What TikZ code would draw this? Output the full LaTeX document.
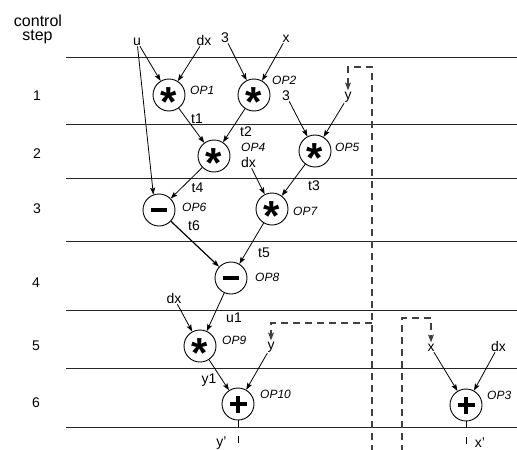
\documentclass[tikz,border=0pt]{standalone}
\usepackage{fontspec}
\setmainfont{Liberation Sans}
\usetikzlibrary{arrows.meta}
\newcommand\opstar{{\fontsize{42}{42}\selectfont\bfseries\raisebox{-0.51em}[0pt][0pt]{*}}}
\newcommand\opminus{\rule[-2.2pt]{16pt}{4.4pt}}
\newcommand\opplus{\makebox[0pt]{\rule[-1.7pt]{17pt}{3.4pt}}\makebox[0pt]{\rule[-8.5pt]{3.4pt}{17pt}}}
\begin{document}
\begin{tikzpicture}[x=1pt,y=-1pt,
  lbl/.style={font=\fontsize{14}{16}\selectfont, inner sep=1pt, anchor=base},
  ctllbl/.style={font=\fontsize{16}{18}\selectfont, inner sep=0pt, anchor=base},
  oplbl/.style={font=\fontsize{12}{14}\selectfont\itshape, inner sep=0pt, anchor=base west},
  opnode/.style={circle, draw, line width=0.9pt, minimum size=32pt, inner sep=0pt},
  arr/.style={-{Stealth[length=7pt,width=5pt,inset=1.5pt]}, line width=0.8pt},
  dasharr/.style={-{Stealth[length=8pt,width=6pt,inset=2pt]}, line width=1.1pt, black!75, dash pattern=on 7pt off 5pt},
  outline/.style={line width=0.9pt, dash pattern=on 7pt off 9pt},
  rowline/.style={line width=1pt, black!85},
]
\useasboundingbox (0,0) rectangle (517,450);
% row lines
\foreach \yy in {57,124,178,241,310,368,427}
  \draw[rowline] (66,\yy) -- (517,\yy);
% control step labels
\node[ctllbl] (ctla) at (38,26) {control};
\node[ctllbl] (ctlb) at (37.5,40.5) {step};
\node[lbl] (s1) at (37,100) {1};
\node[lbl] (s2) at (37,158) {2};
\node[lbl] (s3) at (37,213) {3};
\node[lbl] (s4) at (36,287) {4};
\node[lbl] (s5) at (36,350) {5};
\node[lbl] (s6) at (36,407) {6};
% operation nodes
\node[opnode] (op1) at (169,95) {\opstar};
\node[opnode] (op2) at (254,95) {\opstar};
\node[opnode] (op4) at (214,156) {\opstar};
\node[opnode] (op5) at (315,151) {\opstar};
\node[opnode] (op6) at (159,210) {\opminus};
\node[opnode] (op7) at (272,209) {\opstar};
\node[opnode] (op8) at (231,278) {\opminus};
\node[opnode] (op9) at (200,346) {\opstar};
\node[opnode] (op10) at (238,404) {\opplus};
\node[opnode] (op3) at (466,405) {\opplus};
% operation labels
\node[oplbl] (l1) at (190,94) {OP1};
\node[oplbl] (l2) at (272,84) {OP2};
\node[oplbl] (l4) at (241,151) {OP4};
\node[oplbl] (l5) at (335,151) {OP5};
\node[oplbl] (l6) at (182,211) {OP6};
\node[oplbl] (l7) at (293,215) {OP7};
\node[oplbl] (l8) at (255,281) {OP8};
\node[oplbl] (l9) at (222,344) {OP9};
\node[oplbl] (l10) at (260,398) {OP10};
\node[oplbl] (l3) at (487,399) {OP3};
% variable labels
\node[lbl] (u) at (137,45) {u};
\node[lbl] (dxa) at (204,45) {dx};
\node[lbl] (thra) at (225,42) {3};
\node[lbl] (xa) at (286,42) {x};
\node[lbl] (thrb) at (286,100) {3};
\node[lbl] (ya) at (348,99) {y};
\node[lbl] (tone) at (197,123) {t1};
\node[lbl] (ttwo) at (246,136) {t2};
\node[lbl] (dxb) at (248.5,167) {dx};
\node[lbl] (tfour) at (197.5,192) {t4};
\node[lbl] (tthree) at (314,190) {t3};
\node[lbl] (tsix) at (194,230) {t6};
\node[lbl] (tfive) at (264,257) {t5};
\node[lbl] (dxc) at (174,303) {dx};
\node[lbl] (uone) at (234,322) {u1};
\node[lbl] (yb) at (271,349) {y};
\node[lbl] (yone) at (209,383.5) {y1};
\node[lbl] (xb) at (431,351) {x};
\node[lbl] (dxd) at (498.5,351) {dx};
\node[lbl] (yprime) at (221.5,446) {y'};
\node[lbl] (xprime) at (480,447) {x'};
% connectors
\draw[arr] (u) -- (op1);
\draw[arr] (u) -- (op6.110);
\draw[arr] (dxa) -- (op1);
\draw[arr] (thra) -- (op2);
\draw[arr] (xa) -- (op2);
\draw[arr] (op1) -- (op4);
\draw[arr] (op2) -- (op4);
\draw[arr] (thrb) -- (op5);
\draw[arr] (ya) -- (op5);
\draw[arr] (op4) -- (op6);
\draw[arr] (dxb) -- (op7);
\draw[arr] (op5) -- (op7);
\draw[arr, line width=1.2pt] (op6) -- (op8);
\draw[arr] (op7) -- (op8);
\draw[arr] (op8) -- (op9);
\draw[arr] (dxc) -- (op9);
\draw[arr] (op9) -- (op10);
\draw[arr] (yb) -- (op10);
\draw[arr] (xb) -- (op3);
\draw[arr] (dxd) -- (op3);
% outputs
\coordinate (yend) at (238,452);
\coordinate (xend) at (466,452);
\draw[outline] (op10) -- (yend);
\draw[outline] (op3) -- (xend);
% dashed transfers
\coordinate (da1) at (372,452);
\coordinate (da2) at (372,67);
\coordinate (da3) at (348,67);
\draw[dasharr] (da1) -- (da2) -- (da3) -- (ya);
\coordinate (db1) at (372,323);
\coordinate (db2) at (271,323);
\draw[dasharr] (db1) -- (db2) -- (yb);
\coordinate (dc1) at (402,452);
\coordinate (dc2) at (402,318);
\coordinate (dc3) at (431,318);
\draw[dasharr] (dc1) -- (dc2) -- (dc3) -- (xb);
\end{tikzpicture}
\end{document}
